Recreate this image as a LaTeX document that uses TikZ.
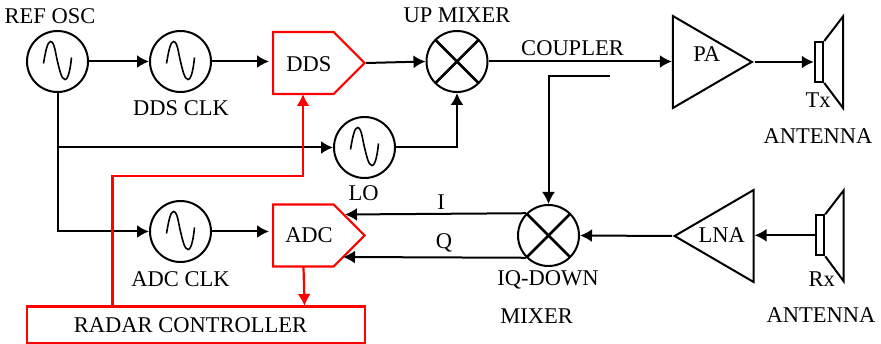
\documentclass[tikz,border=0pt]{standalone}
\usepackage{fontspec}
\setmainfont{Liberation Serif}
\usetikzlibrary{arrows.meta,shapes.geometric,shapes.symbols}
\tikzset{
  osc/.style={circle,draw,inner sep=0pt,minimum size=61pt,path picture={
    \draw[line width=1.6pt,shift={(path picture bounding box.center)}] (-14,2) .. controls (-12,-10) and (-10,-20) .. (-7,-20)
      .. controls (-3,-20) and (-2,-8) .. (0,0) .. controls (2,8) and (4,18) .. (7.5,18)
      .. controls (11,18) and (13,6) .. (14,-4);}},
  mixer/.style={circle,draw,inner sep=0pt,minimum size=61pt,path picture={
    \draw[line width=2.6pt,shift={(path picture bounding box.center)}] (-22,-22) -- (22,22) (-22,22) -- (22,-22);}},
  conv/.style={signal,signal to=east,signal pointer angle=90,draw=red,line width=2.2pt,inner sep=0pt,minimum width=91.5pt,minimum height=62pt},
  amp/.style={isosceles triangle,isosceles triangle stretches,draw,inner sep=0pt,minimum width=92pt,minimum height=79pt},
  feed/.style={rectangle,draw,inner sep=0pt,minimum width=8.5pt,minimum height=40pt},
  redline/.style={red,line width=2.2pt},
}
\begin{document}
\begin{tikzpicture}[x=1pt,y=-1pt,line width=2pt,>={Latex[length=12pt,width=13pt]},every node/.append style={font=\fontsize{22.5}{24}\selectfont}]
  \useasboundingbox (0,0) rectangle (881,344);
  % oscillators
  \node[osc] (refosc) at (57.5,61.5){};
  \node[osc] (ddsclk) at (180.5,61.5){};
  \node[osc] (lo) at (364.5,147.5){};
  \node[osc] (adcclk) at (180.5,231.5){};
  % converters and controller
  \node[conv,anchor=west] (dds) at (272,63){};
  \node[conv,anchor=west] (adc) at (272,235.5){};
  \node[draw=red,line width=2.2pt,rectangle,inner sep=0pt,minimum width=338pt,minimum height=36.5pt] (ctrl) at (196,324.7){};
  % mixers
  \node[mixer] (upmix) at (457,61.5){};
  \node[mixer] (iqmix) at (548.5,235.5){};
  % amplifiers
  \node[amp,anchor=apex] (pa) at (754.5,62){};
  \node[amp,anchor=apex,shape border rotate=180] (lna) at (672,236){};
  % antennas
  \node[feed] (txfeed) at (819,62){};
  \draw (txfeed.north east) -- (843,16.5) -- (843,108) -- (txfeed.south east);
  \node[feed] (rxfeed) at (820,235.3){};
  \draw (rxfeed.north east) -- (843.7,190.3) -- (843.7,281.3) -- (rxfeed.south east);
  % free ends
  \coordinate (ddsin) at (303,94);
  \coordinate (ctrlout) at (112.5,306);
  \coordinate (redbend) at (112.5,176);
  \coordinate (adcout) at (303.5,267);
  \coordinate (ctrlin) at (304.5,306);
  \coordinate (adci) at (345,214.5);
  \coordinate (adcq) at (343,257);
  \coordinate (cplend) at (610,76);
  % black connectors
  \draw[->] (refosc.east) -- (ddsclk.west);
  \draw[->,shorten >=3pt] (ddsclk.east) -- (ddsclk.east -| dds.west);
  \draw[->] (dds.east) -- (upmix.west);
  \draw[->] (upmix.east) -- (pa.west |- upmix.east);
  \draw[->] (pa.apex) -- (txfeed.west);
  \draw[->] (refosc.south) |- (adcclk.west);
  \draw[->] (refosc.south |- lo.west) -- (lo.west);
  \draw[->] (lo.east) -| (upmix.south);
  \draw[->,shorten >=3pt] (adcclk.east) -- (adcclk.east -| adc.west);
  \draw[->] (cplend) -| (iqmix.north);
  \draw[->] (iqmix.135) -- (adci);
  \draw[->] (iqmix.225) -- (adcq);
  \draw[->] (lna.apex) -- (iqmix.east);
  \draw[->] (rxfeed.west) -- (lna.east |- rxfeed.west);
  % red connectors
  \draw[->,redline] (ctrlout) -- (redbend) -| (ddsin);
  \draw[->,redline] (adcout) -- (ctrlin);
  % labels
  \node (reflabel) at (50,16){REF OSC};
  \node (ddsclklabel) at (181,108){DDS CLK};
  \node (ddslabel) at (309,64){DDS};
  \node (uplabel) at (457,15){UP MIXER};
  \node (cpllabel) at (572.5,48){COUPLER};
  \node (palabel) at (706.7,54){PA};
  \node (txlabel) at (818,100){Tx};
  \node (txantlabel) at (818,136){ANTENNA};
  \node (lolabel) at (363.5,192.7){LO};
  \node (ilabel) at (441,202){I};
  \node (qlabel) at (444,243){Q};
  \node (adclabel) at (309,234.7){ADC};
  \node (adcclklabel) at (180.5,279){ADC CLK};
  \node (ctrllabel) at (190.5,324.7){RADAR CONTROLLER};
  \node (iqlabel) at (548,279.7){IQ-DOWN};
  \node (mixlabel) at (536.7,316){MIXER};
  \node (lnalabel) at (721.7,235.3){LNA};
  \node (rxlabel) at (821.7,278.7){Rx};
  \node (rxantlabel) at (821,315){ANTENNA};
\end{tikzpicture}
\end{document}
